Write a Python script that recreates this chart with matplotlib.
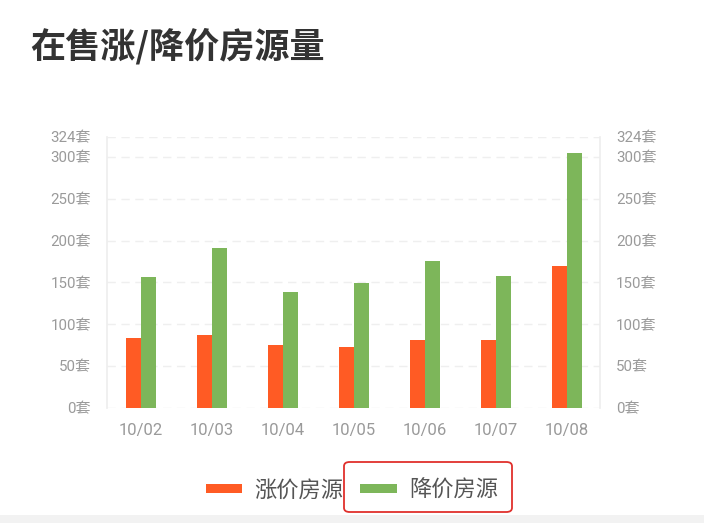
import matplotlib
matplotlib.use("Agg")
import matplotlib.pyplot as plt
from matplotlib.patches import FancyBboxPatch, Rectangle, Patch
import numpy as np

plt.rcParams['font.family'] = ['Roboto', 'Noto Sans CJK SC', 'DejaVu Sans']

categories = ["10/02", "10/03", "10/04", "10/05", "10/06", "10/07", "10/08"]
rise_values = [84, 87, 75, 73, 81, 81, 169]
fall_values = [157, 191, 138, 149, 176, 158, 305]
series_names = ["涨价房源", "降价房源"]
y_ticks = [0, 50, 100, 150, 200, 250, 300, 324]
y_tick_labels = [f"{v}套" for v in y_ticks]
title = "在售涨/降价房源量"

orange = "#FF5B24"
green = "#7DB65A"
tick_color = "#9a9a9a"

W, H = 704, 523
fig = plt.figure(figsize=(W / 100, H / 100), dpi=100)
fig.patch.set_facecolor("white")

ax = fig.add_axes([107 / W, 1 - 408 / H, (600 - 107) / W, (408 - 136.7) / H])
x = np.arange(len(categories))
w = 0.21
ax.bar(x - w / 2, rise_values, width=w, color=orange, zorder=3, label=series_names[0])
ax.bar(x + w / 2, fall_values, width=w, color=green, zorder=3, label=series_names[1])
ax.set_xlim(-0.48, 6.47)
ax.set_ylim(0, 324)

ax.set_yticks(y_ticks)
ax.set_yticklabels(y_tick_labels)
ax.set_xticks(x)
ax.set_xticklabels(categories)
ax.tick_params(axis='y', length=0, pad=11.5, labelsize=10.8, labelcolor=tick_color,
               left=True, right=True, labelleft=True, labelright=True)
ax.tick_params(axis='x', length=0, pad=11, labelsize=12, labelcolor=tick_color)
ax.grid(axis='y', color="#efefef", linestyle=(0, (6, 4)), linewidth=1, zorder=0)
for s in ["top", "bottom"]:
    ax.spines[s].set_visible(False)
for s in ["left", "right"]:
    ax.spines[s].set_color("#ededed")
    ax.spines[s].set_linewidth(1.2)

fig.text(30 / W, 1 - 46 / H, title, fontsize=25.3, fontweight='bold', color="#333333",
         va='center', ha='left', family=['Noto Sans CJK SC', 'DejaVu Sans'])

handles = [Patch(facecolor=orange), Patch(facecolor=green)]
leg = fig.legend(handles, series_names, loc='center', bbox_to_anchor=(352 / W, 1 - 490 / H),
                 ncol=2, frameon=False, handlelength=1.65, handleheight=0.25,
                 handletextpad=0.55, columnspacing=0.75, prop={'family': ['Noto Sans CJK SC'], 'size': 16})
for t in leg.get_texts():
    t.set_color("#555555")

box = FancyBboxPatch((344 / W, 1 - 512 / H), (512 - 344) / W, (512 - 462) / H,
                     boxstyle="round,pad=0,rounding_size=0.008", transform=fig.transFigure,
                     fill=False, edgecolor="#e0302c", linewidth=1.3)
fig.patches.append(box)
fig.patches.append(Rectangle((0, 0), 1, 8 / H, transform=fig.transFigure,
                             facecolor="#f2f2f2", edgecolor="none"))

fig.savefig("out.png", dpi=100, facecolor="white")
